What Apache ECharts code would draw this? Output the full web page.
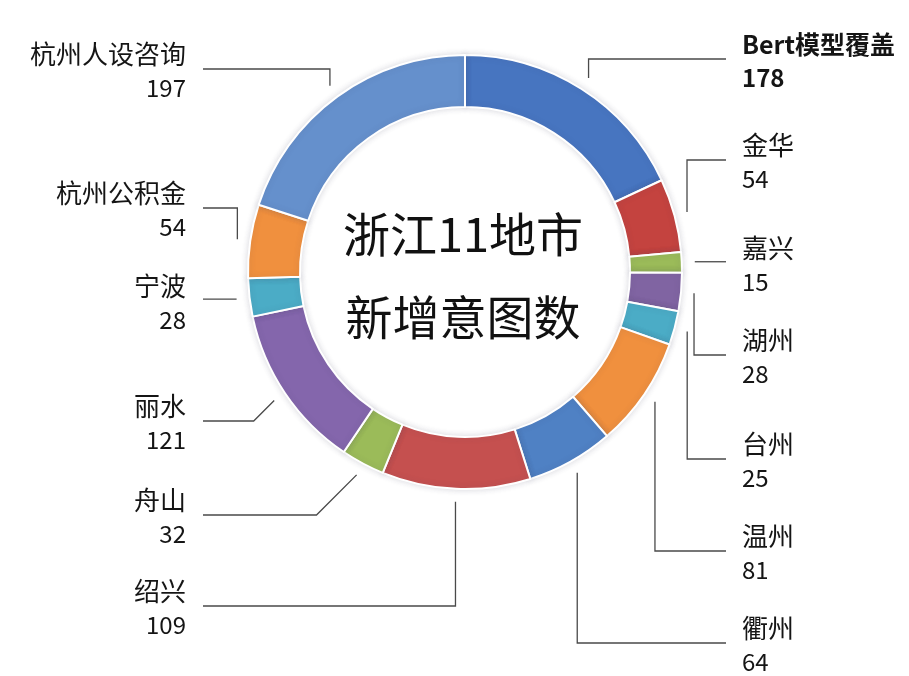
<!DOCTYPE html>
<html><head><meta charset="utf-8">
<script src="https://cdn.jsdelivr.net/npm/echarts@6/dist/echarts.min.js"></script>
<style>html,body{margin:0;padding:0;background:#fff}#c{width:909px;height:676px}</style>
</head><body><div id="c"></div>
<script>
// ---- data ----
const categories = ['Bert模型覆盖','金华','嘉兴','湖州','台州','温州','衢州','绍兴','舟山','丽水','宁波','杭州公积金','杭州人设咨询'];
const values = [178,54,15,28,25,81,64,109,32,121,28,54,197];
const centerTitle = '浙江11地市\n新增意图数';

// ---- layout / style (not data) ----
const colors = ['#4775C0','#C4433F','#9BBB59','#8064A2','#4BACC6','#F0903E','#4F81C4','#C5504F','#9BBB59','#8466AC','#4BACC6','#F0903E','#6590CC'];
const labelSide = ['r','r','r','r','r','r','r','l','l','l','l','l','l'];
const labelY = [61,162,265,357,461,553,645,608,517,423,303,210,71];
const leaderKind = ['v','v','s','v','v','v','v','v','d','d','s','v','v'];
const CX = 465, CY = 272, R0 = 165, R1 = 217, ANCHOR_R = 230;
const LABEL_X_R = 742, LABEL_X_L = 186, LINE_END_R = 726, LINE_END_L = 203;

const chart = echarts.init(document.getElementById('c'), null, {renderer: 'canvas'});

function anchorFor(p) {
  const pts = p.labelLinePoints;
  if (pts && pts[0]) {
    const dx = pts[0][0] - CX, dy = pts[0][1] - CY;
    const d = Math.hypot(dx, dy) || 1;
    return [CX + dx / d * ANCHOR_R, CY + dy / d * ANCHOR_R];
  }
  const total = values.reduce((s, v) => s + v, 0);
  let before = 0;
  for (let k = 0; k < p.dataIndex; k++) before += values[k];
  const ang = (before + values[p.dataIndex] / 2) / total * Math.PI * 2;
  return [CX + Math.sin(ang) * ANCHOR_R, CY - Math.cos(ang) * ANCHOR_R];
}

const nameText = {fontSize: 26, lineHeight: 33, color: '#151515', fontFamily: '"Noto Sans CJK SC", sans-serif'};
const valText = {fontSize: 24, lineHeight: 33, color: '#151515', fontFamily: '"Noto Sans CJK SC", sans-serif'};
const rich = {
  nr: Object.assign({}, nameText, {align: 'left'}),
  vr: Object.assign({}, valText, {align: 'left'}),
  nrb: Object.assign({}, nameText, {align: 'left', fontWeight: 'bold', fontSize: 25}),
  vrb: Object.assign({}, valText, {align: 'left', fontWeight: 'bold'}),
  nl: Object.assign({}, nameText, {align: 'right'}),
  vl: Object.assign({}, valText, {align: 'right'})
};

chart.setOption({
  backgroundColor: '#ffffff',
  animation: false,
  color: colors,
  graphic: [{
    type: 'text', x: 463, y: 276,
    style: {
      text: centerTitle, fill: '#111',
      fontSize: 47, fontFamily: '"Noto Sans CJK SC", sans-serif',
      lineHeight: 83,
      align: 'center', verticalAlign: 'middle',
      textAlign: 'center', textVerticalAlign: 'middle'
    }
  }],
  series: [{
    type: 'pie',
    center: [CX, CY],
    radius: [R0, R1],
    startAngle: 90,
    clockwise: true,
    avoidLabelOverlap: false,
    itemStyle: {borderColor: '#ffffff', borderWidth: 2, shadowBlur: 6, shadowColor: 'rgba(60,60,90,0.18)'},
    label: {
      show: true, position: 'outside',
      formatter: function (p) {
        const s = labelSide[p.dataIndex];
        const b = p.dataIndex === 0 ? 'b' : '';
        return '{n' + s + b + '|' + p.name + '}\n{v' + s + b + '|' + p.value + '}';
      },
      rich: rich
    },
    labelLine: {show: true, smooth: false, lineStyle: {color: '#4a4a4a', width: 1.3}},
    labelLayout: function (p) {
      const i = p.dataIndex;
      const side = labelSide[i];
      const ly = labelY[i];
      const lineY = ly - 2;
      const a = anchorFor(p);
      const endX = side === 'r' ? LINE_END_R : LINE_END_L;
      let pts;
      if (leaderKind[i] === 's') {
        pts = [a, [(a[0] + endX) / 2, a[1]], [endX, a[1]]];
      } else if (leaderKind[i] === 'd') {
        const dir = side === 'r' ? 1 : -1;
        pts = [a, [a[0] + dir * Math.abs(lineY - a[1]), lineY], [endX, lineY]];
      } else {
        pts = [a, [a[0], lineY], [endX, lineY]];
      }
      return {
        x: side === 'r' ? LABEL_X_R : LABEL_X_L,
        y: ly,
        align: side === 'r' ? 'left' : 'right',
        verticalAlign: 'middle',
        labelLinePoints: pts
      };
    },
    data: categories.map((n, i) => ({name: n, value: values[i]}))
  }]
});
</script>
</body></html>
